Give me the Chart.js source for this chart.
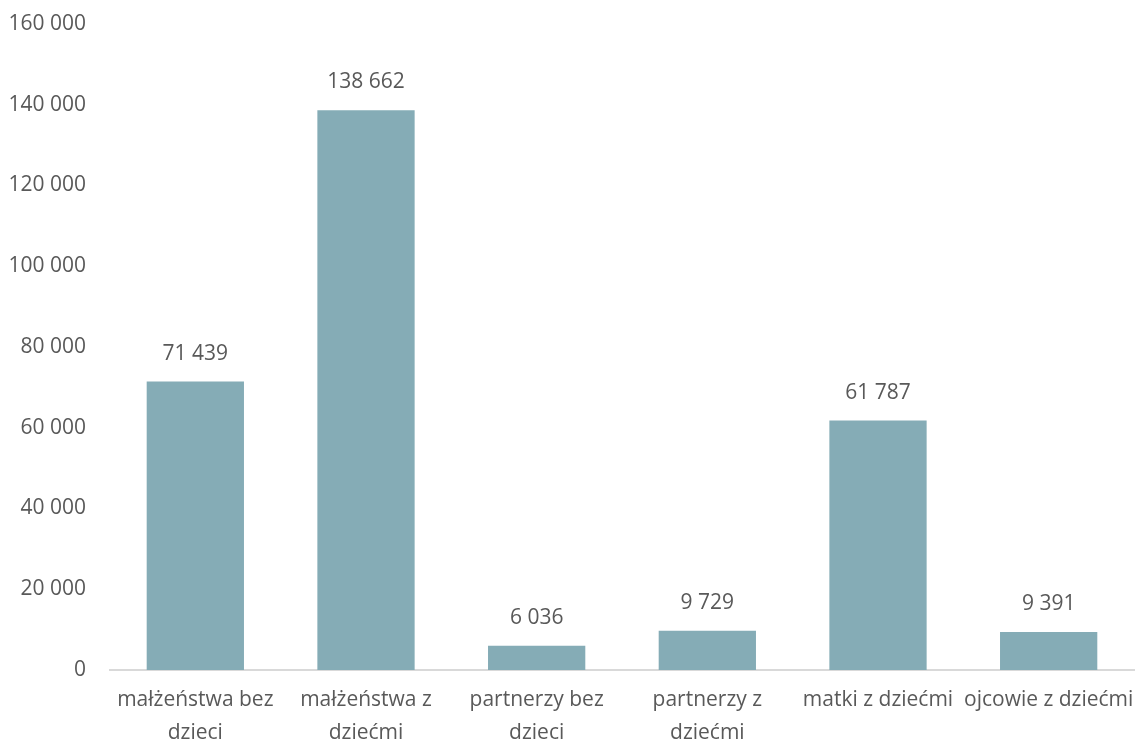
<!DOCTYPE html>
<html>
<head>
<meta charset="utf-8">
<script src="https://cdn.jsdelivr.net/npm/chart.js@4.4.0/dist/chart.umd.min.js"></script>
<style>
    html, body { margin: 0; padding: 0; background: #fff; }
    #wrap { width: 1138px; height: 740px; }
</style>
</head>
<body>
<div id="wrap"><canvas id="barChart" width="1138" height="740"></canvas></div>
<script>
    var categories = [
        ['małżeństwa bez', 'dzieci'],
        ['małżeństwa z', 'dziećmi'],
        ['partnerzy bez', 'dzieci'],
        ['partnerzy z', 'dziećmi'],
        'matki z dziećmi',
        'ojcowie z dziećmi'
    ];
    var values = [71439, 138662, 6036, 9729, 61787, 9391];

    function fmt(n) {
        return String(n).replace(/\B(?=(\d{3})+(?!\d))/g, ' ');
    }

    var textColor = '#595959';
    var fontFamily = '"Open Sans", "DejaVu Sans", sans-serif';

    // labels above bars
    var valueLabels = {
        id: 'valueLabels',
        afterDatasetsDraw: function(chart) {
            var ctx = chart.ctx;
            var meta = chart.getDatasetMeta(0);
            ctx.save();
            ctx.fillStyle = textColor;
            ctx.font = '21px ' + fontFamily;
            ctx.textAlign = 'center';
            ctx.textBaseline = 'middle';
            meta.data.forEach(function(bar, i) {
                ctx.fillText(fmt(values[i]), bar.x, bar.y - 28);
            });
            ctx.restore();
        }
    };

    Chart.defaults.font.family = fontFamily;
    Chart.defaults.font.size = 21;
    Chart.defaults.color = textColor;

    new Chart(document.getElementById('barChart'), {
        type: 'bar',
        data: {
            labels: categories,
            datasets: [{
                data: values,
                backgroundColor: '#85ACB6',
                categoryPercentage: 1,
                barPercentage: 0.57
            }]
        },
        options: {
            responsive: false,
            animation: false,
            layout: { padding: { top: 24, right: 4, left: 0, bottom: 0 } },
            plugins: {
                legend: { display: false },
                tooltip: { enabled: false }
            },
            scales: {
                x: {
                    grid: { display: false, drawTicks: false },
                    border: { display: true, color: '#D9D9D9', width: 2 },
                    ticks: { padding: 14, maxRotation: 0, autoSkip: false, font: { size: 21, lineHeight: 1.57 } },
                    afterFit: function(scale) {
                        scale.height = 70;
                        scale.paddingLeft = 0;
                        scale.paddingRight = 0;
                    }
                },
                y: {
                    min: 0,
                    max: 160000,
                    grid: { display: false, drawTicks: false },
                    border: { display: false },
                    ticks: {
                        stepSize: 20000,
                        padding: 24,
                        callback: function(v) { return fmt(v); }
                    },
                    afterFit: function(scale) {
                        scale.width = 110;
                        scale.paddingTop = 0;
                        scale.paddingBottom = 0;
                    }
                }
            }
        },
        plugins: [valueLabels]
    });
</script>
</body>
</html>
